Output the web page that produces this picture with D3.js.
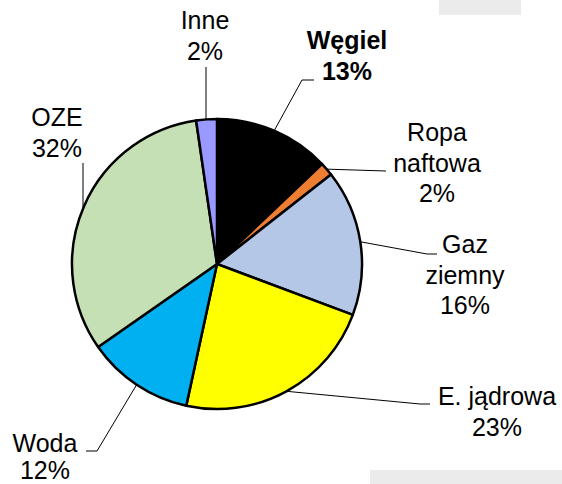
<!DOCTYPE html>
<html>
<head>
<meta charset="utf-8">
<script src="https://cdn.jsdelivr.net/npm/d3@7"></script>
<style>
  body { margin: 0; background: #fff; }
  text { font-family: 'Liberation Sans', Arial, sans-serif; font-size: 25px; fill: #000; }
</style>
</head>
<body>
<svg id="chart"></svg>
<script>
const categories = ['Węgiel', 'Ropa naftowa', 'Gaz ziemny', 'E. jądrowa', 'Woda', 'OZE', 'Inne']
const shares = [12.9, 1.5, 16.3, 22.7, 11.9, 32.4, 2.3]
const labelLines = [['Węgiel'], ['Ropa', 'naftowa'], ['Gaz', 'ziemny'], ['E. jądrowa'], ['Woda'], ['OZE'], ['Inne']]
const colors = ['#000000', '#ED7D31', '#B4C7E7', '#FFFF00', '#00B0F0', '#C5E0B4', '#9999FF']

const width = 562
const height = 484
const cx = 217
const cy = 264
const radius = 145
const lineHeight = 30.5

// label placement: x centre, first baseline, leader path ends
const layout = [
  { x: 347, y: 49, bold: true, path: [[302, 80], [314, 80]] },
  { x: 437, y: 141, path: [[386, 171]] },
  { x: 465, y: 253, path: [[427, 254], [437, 254]] },
  { x: 497, y: 405, path: [[420, 404], [430, 404]] },
  { x: 45, y: 452, gap: 27, path: [[97, 451], [86, 451]] },
  { x: 57, y: 126, vertical: true, path: [[83, 163]] },
  { x: 205, y: 29, vertical: true, path: [[206, 67]] }
]

const svg = d3.select('#chart')
  .attr('width', width)
  .attr('height', height)

svg.append('rect').attr('x', 439).attr('y', 0).attr('width', 82).attr('height', 15).attr('fill', '#ebebeb')
svg.append('rect').attr('x', 370).attr('y', 470).attr('width', 192).attr('height', 14).attr('fill', '#ebebeb')

const data = categories.map((name, i) => ({
  name,
  value: shares[i],
  color: colors[i],
  lines: labelLines[i],
  pct: Math.round(shares[i]) + '%',
  pos: layout[i]
}))

const pie = d3.pie().sort(null).value(d => d.value)
const arc = d3.arc().innerRadius(0).outerRadius(radius)
const arcs = pie(data)

const g = svg.append('g').attr('transform', `translate(${cx}, ${cy})`)

g.selectAll('path.slice')
  .data(arcs)
  .join('path')
  .attr('class', 'slice')
  .attr('d', arc)
  .attr('fill', d => d.data.color)
  .attr('stroke', '#000')
  .attr('stroke-width', 2.5)
  .attr('stroke-linejoin', 'round')

// leader lines
const line = d3.line()
arcs.forEach(a => {
  const pos = a.data.pos
  let start
  if (pos.vertical) {
    const dx = pos.path[0][0] - cx
    start = [cx + dx, cy - Math.sqrt(radius * radius - dx * dx)]
  } else {
    const mid = (a.startAngle + a.endAngle) / 2
    start = [cx + radius * Math.sin(mid), cy - radius * Math.cos(mid)]
  }
  svg.append('path')
    .attr('d', line([start, ...pos.path]))
    .attr('fill', 'none')
    .attr('stroke', '#000')
    .attr('stroke-width', 1)
})

// labels
arcs.forEach(a => {
  const pos = a.data.pos
  const t = svg.append('text')
    .attr('text-anchor', 'middle')
    .attr('font-weight', pos.bold ? 'bold' : 'normal')
  const lines = [...a.data.lines, a.data.pct]
  lines.forEach((s, i) => {
    t.append('tspan')
      .attr('x', pos.x)
      .attr('y', pos.y + i * (pos.gap || lineHeight))
      .text(s)
  })
})
</script>
</body>
</html>
